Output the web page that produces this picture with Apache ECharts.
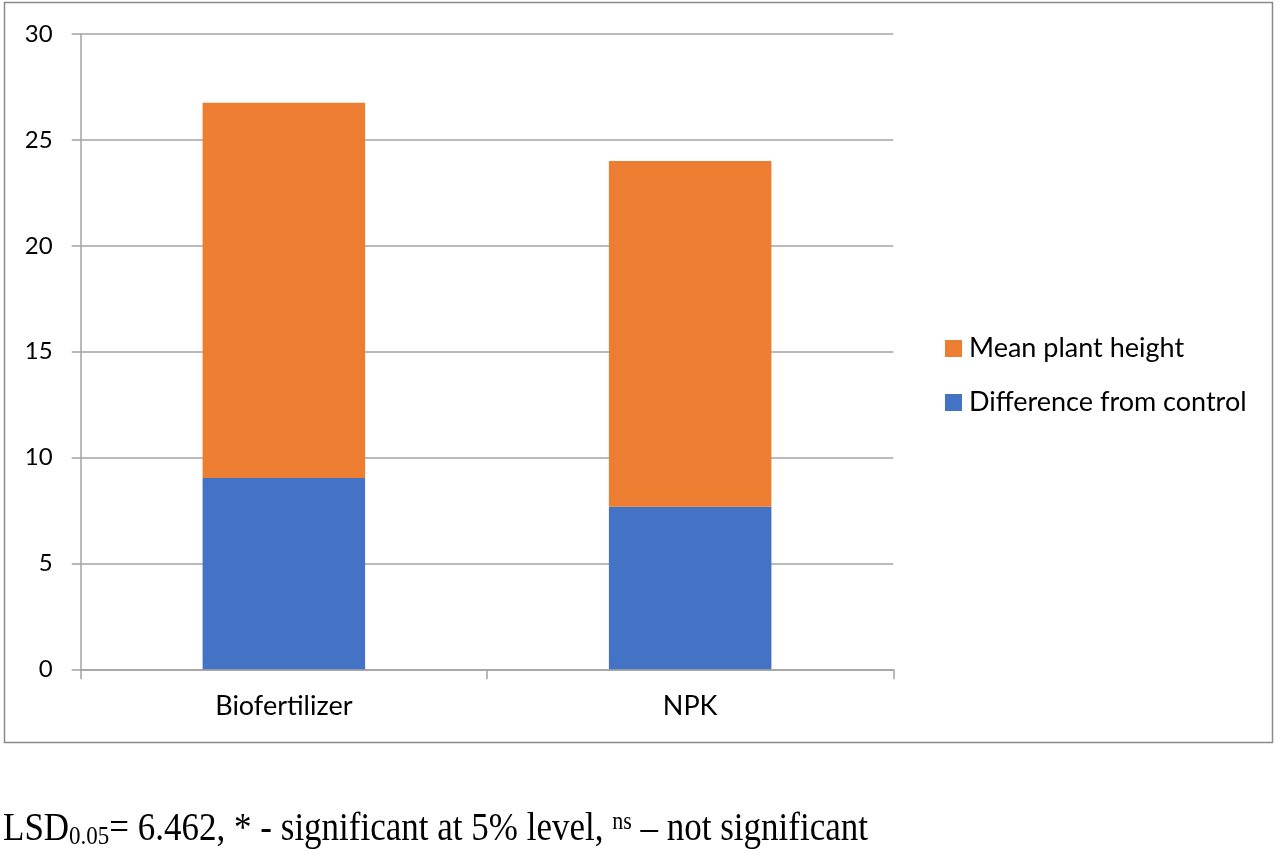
<!DOCTYPE html>
<html>
<head>
<meta charset="utf-8">
<title>Plant height</title>
<script src="https://cdn.jsdelivr.net/npm/echarts@6/dist/echarts.min.js"></script>
<style>
  html, body { margin: 0; padding: 0; background: #fff; }
  #chart { width: 1280px; height: 855px; }
</style>
</head>
<body>
<div id="chart"></div>
<script>
// data
const categories = ['Biofertilizer', 'NPK'];
const diffFromControl = [9.03, 7.67];      // blue, bottom part
const meanHeightPart = [17.72, 16.33];     // orange, stacked on top (totals ~26.75, 24.0)
const yTicks = [0, 5, 10, 15, 20, 25, 30];

const gridColor = '#a3a3a3';
const sansFont = 'Lato, "Open Sans", sans-serif';

let chart = echarts.init(document.getElementById('chart'));

chart.setOption({
  backgroundColor: '#fff',
  animation: false,
  color: ['#4472C4', '#ED7D31'],
  grid: {
    left: 80.7,
    right: 386.7,
    top: 34,
    bottom: 185.7
  },
  legend: {
    orient: 'vertical',
    left: 940,
    top: 330,
    itemWidth: 17,
    itemHeight: 17,
    itemGap: 27,
    icon: 'rect',
    data: ['Mean plant height', 'Difference from control'],
    textStyle: {
      fontFamily: sansFont,
      fontSize: 27,
      color: '#000',
      padding: [0, 0, 0, 2]
    }
  },
  xAxis: {
    type: 'category',
    data: categories,
    axisLine: { lineStyle: { color: gridColor, width: 1.5 } },
    axisTick: { show: true, length: 10, lineStyle: { color: gridColor, width: 1.5 } },
    axisLabel: {
      margin: 23,
      fontFamily: sansFont,
      fontSize: 27,
      color: '#000'
    }
  },
  yAxis: {
    type: 'value',
    min: yTicks[0],
    max: yTicks[yTicks.length - 1],
    interval: 5,
    axisLine: { show: true, lineStyle: { color: gridColor, width: 1.5 } },
    axisTick: { show: true, length: 9, lineStyle: { color: gridColor, width: 1.5 } },
    splitLine: { lineStyle: { color: gridColor, width: 1.5 } },
    axisLabel: {
      margin: 28,
      fontFamily: sansFont,
      fontSize: 24,
      color: '#000'
    }
  },
  series: [
    {
      name: 'Difference from control',
      type: 'bar',
      stack: 'total',
      barWidth: '40%',
      data: diffFromControl
    },
    {
      name: 'Mean plant height',
      type: 'bar',
      stack: 'total',
      barWidth: '40%',
      data: meanHeightPart
    }
  ],
  graphic: [
    {
      type: 'rect',
      shape: { x: 4.5, y: 2.5, width: 1268, height: 740 },
      style: { fill: 'none', stroke: '#8a8a8a', lineWidth: 1.5 },
      silent: true
    },
    {
      type: 'text',
      left: 3,
      top: 810,
      scaleY: 1.14,
      style: {
        text: 'LSD{sub|0.05}= 6.462, * - significant at 5% level, {sup|ns} \u2013 not significant',
        fontFamily: '"Liberation Serif", "Times New Roman", serif',
        fontSize: 35,
        fill: '#000',
        rich: {
          sub: {
            fontFamily: '"Liberation Serif", serif',
            fontSize: 23,
            verticalAlign: 'bottom',
            padding: [9, 0, 0, 0]
          },
          sup: {
            fontFamily: '"Liberation Serif", serif',
            fontSize: 22,
            verticalAlign: 'top',
            padding: [0, 0, 11, 0]
          }
        }
      }
    }
  ]
});

window.addEventListener('resize', () => chart.resize());
</script>
</body>
</html>
